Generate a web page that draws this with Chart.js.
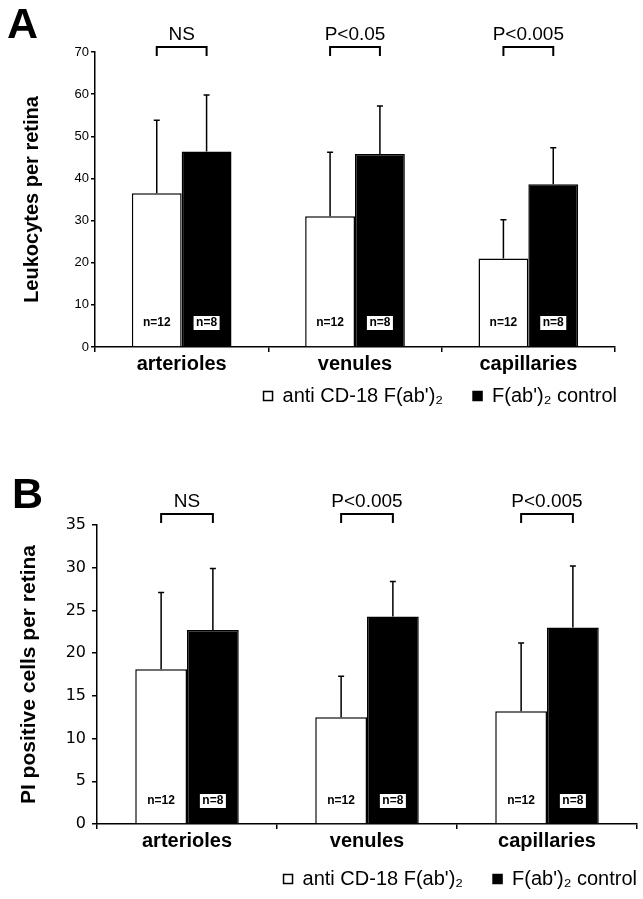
<!DOCTYPE html>
<html>
<head>
<meta charset="utf-8">
<script src="https://cdn.jsdelivr.net/npm/chart.js@4.4.1/dist/chart.umd.min.js"></script>
<style>
  body { margin: 0; background: #fff; }
  #wrap { position: relative; width: 643px; height: 899px; }
  .panel { position: absolute; left: 0; width: 643px; }
  #panelA { top: 0; height: 450px; }
  #panelB { top: 450px; height: 449px; }
  .letter { position: absolute; font: bold 43px "Liberation Sans", Arial, sans-serif; line-height: 43px; }
</style>
</head>
<body>
<div id="wrap">
  <div class="panel" id="panelA"><canvas id="chartA"></canvas></div>
  <div class="panel" id="panelB"><canvas id="chartB"></canvas></div>
  <div class="letter" style="left:7px; top:2px;">A</div>
  <div class="letter" style="left:12px; top:472px;">B</div>
</div>
<script>
const FONT = '"Liberation Sans", Arial, Helvetica, sans-serif';

const categories = ['arterioles', 'venules', 'capillaries'];
const seriesLabels = ["anti CD-18 F(ab')\u2082", "F(ab')\u2082 control"];
const sampleSizes = ['n=12', 'n=8'];

// panel A - leukocytes per retina
const leukoAnti = [36.5, 31.0, 21.0];
const leukoAntiErr = [17.3, 15.2, 9.2];
const leukoCtrl = [46.4, 45.8, 38.6];
const leukoCtrlErr = [13.4, 11.4, 8.7];
const leukoP = ['NS', 'P<0.05', 'P<0.005'];
const leukoTicks = [0, 10, 20, 30, 40, 50, 60, 70];

// panel B - PI positive cells per retina
const piAnti = [18.1, 12.5, 13.2];
const piAntiErr = [9.0, 4.8, 8.0];
const piCtrl = [22.7, 24.3, 23.0];
const piCtrlErr = [7.2, 4.1, 7.2];
const piP = ['NS', 'P<0.005', 'P<0.005'];
const piTicks = [0, 5, 10, 15, 20, 25, 30, 35];

// error bars (upper only), n labels and significance brackets
const barExtras = {
  id: 'barExtras',
  afterDatasetsDraw(chart, args, opts) {
    const ctx = chart.ctx;
    const yScale = chart.scales.y;
    const area = chart.chartArea;
    ctx.save();
    ctx.strokeStyle = '#000';
    ctx.lineWidth = 1.5;
    chart.data.datasets.forEach((ds, i) => {
      chart.getDatasetMeta(i).data.forEach((bar, j) => {
        const top = yScale.getPixelForValue(ds.data[j] + ds.errors[j]);
        ctx.beginPath();
        ctx.moveTo(bar.x, bar.y);
        ctx.lineTo(bar.x, top);
        ctx.moveTo(bar.x - 3, top);
        ctx.lineTo(bar.x + 3, top);
        ctx.stroke();
      });
    });

    ctx.font = 'bold 12px ' + FONT;
    ctx.textAlign = 'center';
    ctx.textBaseline = 'middle';
    const ny = area.bottom - opts.nOffset;
    chart.data.datasets.forEach((ds, i) => {
      chart.getDatasetMeta(i).data.forEach(bar => {
        const label = sampleSizes[i];
        if (i === 1) {
          const w = ctx.measureText(label).width + 5;
          ctx.fillStyle = '#fff';
          ctx.fillRect(bar.x - w / 2, ny - 7, w, 14);
        }
        ctx.fillStyle = '#000';
        ctx.fillText(label, bar.x, ny);
      });
    });

    const a = chart.getDatasetMeta(0).data;
    const b = chart.getDatasetMeta(1).data;
    const by = area.top - opts.bracketGap;
    ctx.lineWidth = 2;
    ctx.font = '19px ' + FONT;
    ctx.textBaseline = 'alphabetic';
    opts.pValues.forEach((p, j) => {
      ctx.beginPath();
      ctx.moveTo(a[j].x, by + 9);
      ctx.lineTo(a[j].x, by);
      ctx.lineTo(b[j].x, by);
      ctx.lineTo(b[j].x, by + 9);
      ctx.stroke();
      ctx.fillText(p, (a[j].x + b[j].x) / 2, by - 7);
    });
    ctx.restore();
  }
};

function makeChart(id, cfg) {
  return new Chart(document.getElementById(id), {
    type: 'bar',
    data: {
      labels: categories,
      datasets: [
        { label: seriesLabels[0], data: cfg.anti, errors: cfg.antiErr,
          backgroundColor: '#fff', borderColor: '#000', borderWidth: 1.5 },
        { label: seriesLabels[1], data: cfg.ctrl, errors: cfg.ctrlErr,
          backgroundColor: '#000', borderColor: '#000', borderWidth: 1.5 }
      ]
    },
    options: {
      responsive: true,
      maintainAspectRatio: false,
      animation: false,
      categoryPercentage: 0.575,
      barPercentage: 1,
      layout: { padding: cfg.padding },
      plugins: {
        tooltip: { enabled: false },
        legend: {
          position: 'bottom',
          align: 'end',
          labels: { boxWidth: 9, boxHeight: 9, padding: 30, color: '#000',
                    font: { family: FONT, size: 20 } }
        },
        barExtras: { pValues: cfg.pValues, nOffset: cfg.nOffset, bracketGap: cfg.bracketGap }
      },
      scales: {
        x: {
          grid: { drawOnChartArea: false, drawTicks: true, tickLength: 5, color: '#000', lineWidth: 1.5, offset: true },
          border: { color: '#000', width: 1.5 },
          ticks: { color: '#000', padding: 0, font: { family: FONT, size: 20, weight: 'bold' } },
          afterFit: s => {
            s.height = cfg.xHeight;
            // category labels hang below the short axis box, so don't clip them
            s._computeLabelArea = () => null;
          }
        },
        y: {
          min: cfg.ticks[0],
          max: cfg.ticks[cfg.ticks.length - 1],
          afterBuildTicks: s => { s.ticks = cfg.ticks.map(v => ({ value: v })); },
          grid: { drawOnChartArea: false, tickLength: cfg.tickLen, color: '#000', lineWidth: 1.5 },
          border: { color: '#000', width: 1.5 },
          ticks: { color: '#000', padding: cfg.tickPad, font: cfg.tickFont },
          title: { display: true, text: cfg.title, color: '#000', padding: { top: cfg.titlePad, bottom: 0 },
                   font: { family: FONT, size: cfg.titleSize, weight: 'bold' } },
          afterFit: s => { s.width = cfg.yWidth; }
        },
        yR: {
          type: 'linear',
          position: 'right',
          grid: { display: false },
          border: { display: false },
          ticks: { display: false },
          afterFit: s => { s.width = cfg.rightGap; }
        }
      }
    },
    plugins: [barExtras]
  });
}

makeChart('chartA', {
  anti: leukoAnti, antiErr: leukoAntiErr, ctrl: leukoCtrl, ctrlErr: leukoCtrlErr,
  pValues: leukoP, ticks: leukoTicks, title: 'Leukocytes per retina',
  padding: { top: 52, left: 10, right: -4, bottom: 34 },
  xHeight: 9, yWidth: 85, rightGap: 32, tickLen: 4, tickPad: 2,
  tickFont: { family: FONT, size: 13 },
  titleSize: 20, titlePad: 10,
  nOffset: 24, bracketGap: 5
});

makeChart('chartB', {
  anti: piAnti, antiErr: piAntiErr, ctrl: piCtrl, ctrlErr: piCtrlErr,
  pValues: piP, ticks: piTicks, title: 'PI positive cells per retina',
  padding: { top: 75, left: 10, right: -24, bottom: 0 },
  xHeight: 15, yWidth: 87, rightGap: 30, tickLen: 5, tickPad: 6,
  tickFont: { family: '"DejaVu Sans", Verdana, sans-serif', size: 16 },
  titleSize: 21, titlePad: 7,
  nOffset: 23, bracketGap: 11
});
</script>
</body>
</html>
